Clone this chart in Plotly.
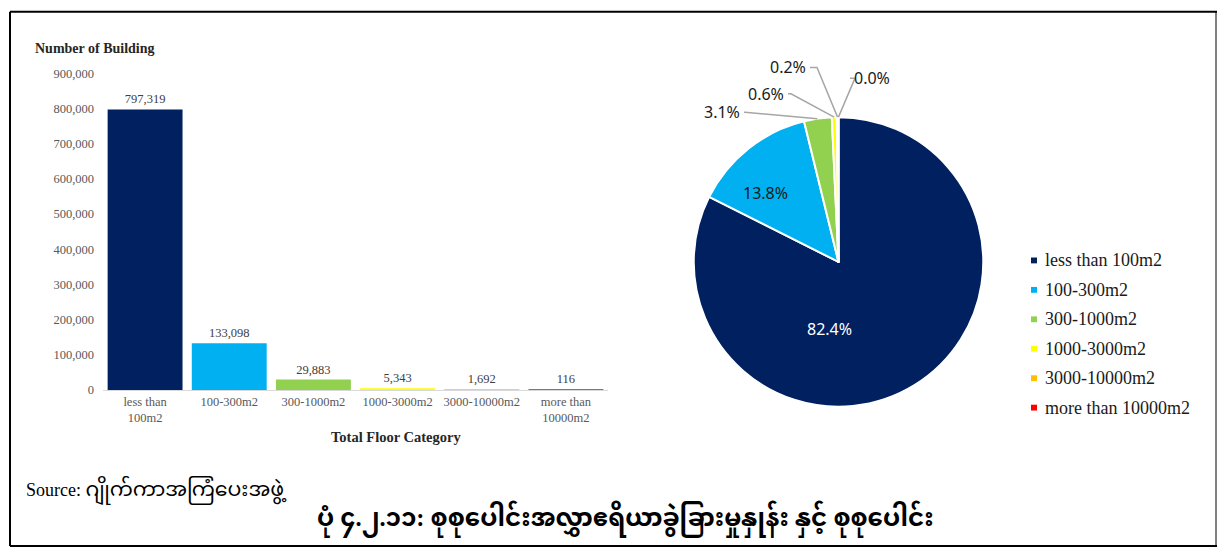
import math
import plotly.graph_objects as go

W, H = 1217, 555

# ---------------- data ----------------
categories = ["less than 100m2", "100-300m2", "300-1000m2", "1000-3000m2",
              "3000-10000m2", "more than 10000m2"]
tick_labels = ["less than<br>100m2", "100-300m2", "300-1000m2", "1000-3000m2",
               "3000-10000m2", "more than<br>10000m2"]
buildings = [797319, 133098, 29883, 5343, 1692, 116]
colors = ["#002060", "#00B0F0", "#92D050", "#FFFF00", "#FFC000", "#FF0000"]

y_title = "Number of Building"
x_title = "Total Floor Category"
source_label = "Source: "
source_text = "ဂျိုက်ကာအကြံပေးအဖွဲ့"
caption = "ပုံ ၄.၂.၁၁: စုစုပေါင်းအလွှာဧရိယာခွဲခြားမှုနှုန်း နှင့် စုစုပေါင်း"

SERIF = "Liberation Serif, Times New Roman, serif"
SANS = "Noto Sans, Open Sans, sans-serif"
MM = "Liberation Serif, Noto Sans Myanmar, Padauk, Myanmar Text, serif"


def px(x):
    return x / W


def py(y):
    return 1 - y / H


fig = go.Figure()

# ---------------- bar chart ----------------
fig.add_trace(go.Bar(
    x=categories, y=buildings,
    marker=dict(color=colors, line=dict(width=0)),
    text=[f"{v:,}" for v in buildings],
    textposition="outside",
    textfont=dict(family=SERIF, size=12.5, color="#404040"),
    cliponaxis=False,
    showlegend=False,
    xaxis="x", yaxis="y",
))

# ---------------- pie chart ----------------
cx, cy, r = 838.5, 261.5, 148.5
fig.add_trace(go.Pie(
    labels=categories, values=buildings,
    marker=dict(colors=colors, line=dict(color="white", width=2)),
    sort=False, direction="clockwise", rotation=0,
    textinfo="none", hoverinfo="label+percent",
    showlegend=False,
    domain=dict(x=[px(cx - r), px(cx + r)], y=[py(cy + r), py(cy - r)]),
))

total = sum(buildings)
fracs = [v / total for v in buildings]
pct_text = [f"{f*100:.1f}%" for f in fracs]

annotations = []
shapes = []

# inside labels for the two large slices
inside_pos = [(854, 330), (765, 177)]
inside_col = ["white", "#1a1a1a"]
for i in range(2):
    annotations.append(dict(
        x=px(inside_pos[i][0]), y=py(inside_pos[i][1]), xref="paper", yref="paper",
        text=pct_text[i], showarrow=False,
        font=dict(family=SANS, size=16, color=inside_col[i]),
    ))

# outside labels with leader lines for the small slices
# (text anchor x, text y, anchor side, elbow x)
outside = {
    2: (742, 108, "right", 745),
    3: (786, 89, "right", 791),
    4: (808, 62, "right", 817),
    5: (852, 73, "left", 855),
}
cum = 0.0
mids = []
for f in fracs:
    mids.append(cum + f / 2)
    cum += f
for i, (tx, ty, side, ex) in outside.items():
    ang = 2 * math.pi * mids[i]
    sx = cx + r * math.sin(ang)
    sy = cy - r * math.cos(ang)
    lx = tx + 2 if side == "right" else tx - 2
    shapes.append(dict(
        type="path", xref="paper", yref="paper",
        path=f"M {px(lx)},{py(ty)} L {px(ex)},{py(ty)} L {px(sx)},{py(sy)}",
        line=dict(color="#A6A6A6", width=1.5),
    ))
    annotations.append(dict(
        x=px(tx), y=py(ty), xref="paper", yref="paper",
        xanchor=side, yanchor="middle",
        text=pct_text[i], showarrow=False,
        font=dict(family=SANS, size=16, color="#1a1a1a"),
    ))

# legend (manual)
leg_y0, leg_dy = 260, 30.2
for i, (lab, col) in enumerate(zip(categories, colors)):
    yy = leg_y0 + i * leg_dy
    shapes.append(dict(
        type="rect", xref="paper", yref="paper",
        x0=px(1031), x1=px(1037), y0=py(yy + 3), y1=py(yy - 3),
        fillcolor=col, line=dict(width=0),
    ))
    annotations.append(dict(
        x=px(1043), y=py(yy), xref="paper", yref="paper",
        xanchor="left", yanchor="middle", text=lab, showarrow=False,
        font=dict(family=SERIF, size=18, color="#1a1a1a"),
    ))

# axis titles
annotations.append(dict(
    x=px(33), y=py(43), xref="paper", yref="paper", xanchor="left", yanchor="middle",
    text="<b>" + y_title + "</b>", showarrow=False,
    font=dict(family=SERIF, size=14, color="#262626"),
))
annotations.append(dict(
    x=px(396), y=py(441), xref="paper", yref="paper", xanchor="center", yanchor="middle",
    text="<b>" + x_title + "</b>", showarrow=False,
    font=dict(family=SERIF, size=14.5, color="#262626"),
))

# source & caption
annotations.append(dict(
    x=px(24), y=py(495), xref="paper", yref="paper", xanchor="left", yanchor="middle",
    text=source_label + "<span style='font-size:20.5px'>" + source_text + "</span>",
    showarrow=False,
    font=dict(family=MM, size=18, color="black"),
))
annotations.append(dict(
    x=px(625), y=py(525), xref="paper", yref="paper", xanchor="center", yanchor="middle",
    text="<b>" + caption + "</b>", showarrow=False,
    font=dict(family=MM, size=24.5, color="black"),
))

# frame
frame = dict(color="black", width=2)
shapes += [
    dict(type="line", xref="paper", yref="paper", x0=px(10), x1=px(10), y0=py(5), y1=py(553), line=frame),
    dict(type="line", xref="paper", yref="paper", x0=px(10), x1=1, y0=py(5), y1=py(5), line=frame),
    dict(type="line", xref="paper", yref="paper", x0=px(10), x1=1, y0=py(553), y1=py(553), line=frame),
    dict(type="line", xref="paper", yref="paper", x0=px(1216), x1=px(1216), y0=py(5), y1=py(553),
         line=dict(color="black", width=1)),
]

fig.update_layout(
    width=W, height=H,
    margin=dict(l=0, r=0, t=0, b=0),
    paper_bgcolor="white", plot_bgcolor="white",
    bargap=0.11,
    xaxis=dict(
        domain=[px(103), px(608)],
        tickmode="array", tickvals=categories, ticktext=tick_labels,
        tickfont=dict(family=SERIF, size=12.5, color="#595959"),
        showline=True, linecolor="#D9D9D9", linewidth=1,
        ticks="", showgrid=False, zeroline=False,
    ),
    yaxis=dict(
        domain=[py(393), py(68)],
        range=[0, 900000], dtick=100000, tickformat=",",
        tickfont=dict(family=SERIF, size=12.5, color="#595959"),
        showgrid=False, zeroline=False, showline=False, ticks="",
        ticklabelstandoff=8,
    ),
    annotations=annotations,
    shapes=shapes,
    showlegend=False,
)

fig.write_html(
    "out.html",
    config={"displayModeBar": False},
    post_script=(
        "var gd=document.getElementById('{plot_id}');"
        "gd.style.position='fixed';gd.style.top='0px';gd.style.left='0px';"
        "document.documentElement.style.margin='0';"
        "document.documentElement.style.overflow='hidden';"
        "document.body.style.margin='0';document.body.style.padding='0';"
        "document.body.style.overflow='hidden';"
    ),
)
